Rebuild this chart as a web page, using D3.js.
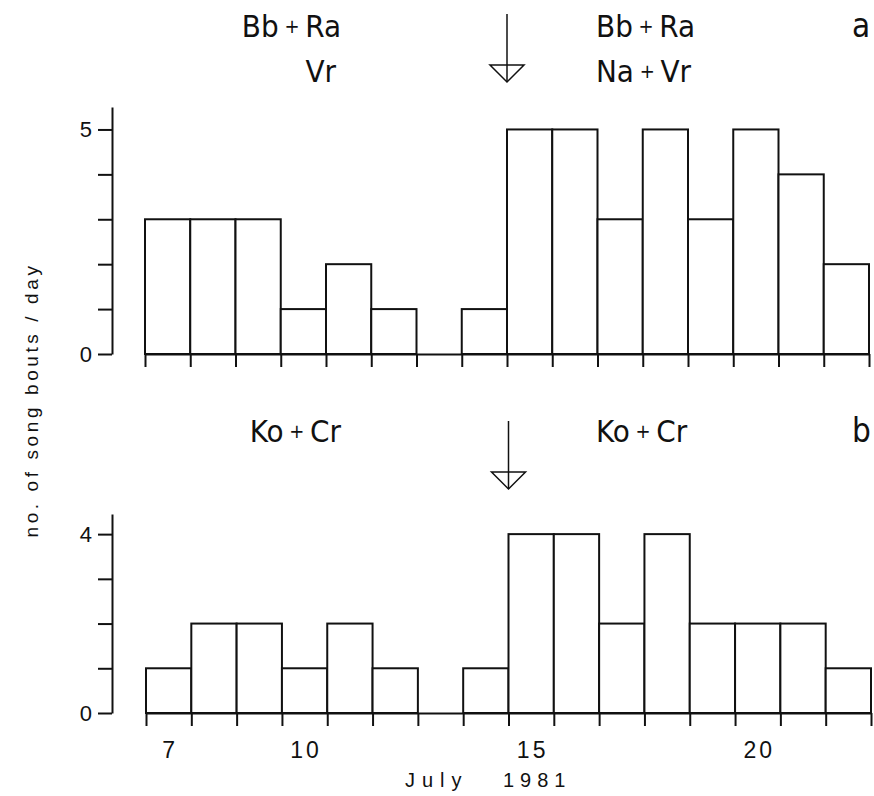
<!DOCTYPE html>
<html>
<head>
    <meta charset="utf-8"/>
    <title>Song bouts per day, July 1981</title>
    <script src="https://d3js.org/d3.v7.min.js"></script>
    <style>
        body { margin: 0; background: #ffffff; }
        svg { display: block; }
        .axis path, .axis line { stroke: #111; stroke-width: 2; }
        .axis text { display: none; }
        .lab { font-family: "Liberation Sans Narrow", "DejaVu Sans Condensed", "Liberation Sans", sans-serif; fill: #111; }
        .num { font-family: "Liberation Sans", Arial, sans-serif; fill: #111; }
    </style>
</head>
<body>
<svg id="chart" width="874" height="796"></svg>
<script>

    // days of July 1981, one bar per day
    var days = [7, 8, 9, 10, 11, 12, 13, 14, 15, 16, 17, 18, 19, 20, 21, 22];
    // song bouts per day, panel a (Bb+Ra / Vr, then Na+Vr)
    var boutsA = [3, 3, 3, 1, 2, 1, 0, 1, 5, 5, 3, 5, 3, 5, 4, 2];
    // song bouts per day, panel b (Ko+Cr)
    var boutsB = [1, 2, 2, 1, 2, 1, 0, 1, 4, 4, 2, 4, 2, 2, 2, 1];
    var dayLabels = [7, 10, 15, 20];
    var arrowDay = 15;

    var svg = d3.select("#chart");

    function panel(vals, yTop, yBase, yMax, yLabelMax, xLeft, xRight) {
        var g = svg.append("g");

        // bar for day d spans [d, d+1]
        var x = d3.scaleLinear().domain([days[0], days[days.length - 1] + 1]).range([xLeft, xRight]);
        var y = d3.scaleLinear().domain([0, yMax]).range([yBase, yTop]);

        g.selectAll("rect.bar")
            .data(days.filter(function (d, i) { return vals[i] > 0; }))
            .enter()
            .append("rect")
            .attr("class", "bar")
            .attr("x", function (d) { return x(d); })
            .attr("width", function (d) { return x(d + 1) - x(d); })
            .attr("y", function (d) { return y(vals[days.indexOf(d)]); })
            .attr("height", function (d) { return y(0) - y(vals[days.indexOf(d)]); })
            .attr("fill", "#ffffff")
            .attr("stroke", "#111")
            .attr("stroke-width", 2);

        // baseline with a tick at every day boundary
        var axX = d3.axisBottom(x).tickValues(d3.range(days[0], days[days.length - 1] + 2))
            .tickSize(13).tickSizeOuter(0).tickFormat("");
        g.append("g").attr("class", "axis").attr("transform", "translate(0," + y(0) + ")").call(axX);

        var axY = d3.axisLeft(y).tickValues(d3.range(0, yLabelMax + 1)).tickSize(14).tickSizeOuter(0);
        g.append("g").attr("class", "axis").attr("transform", "translate(" + (112) + ",0)").call(axY);

        g.selectAll("text.ylab")
            .data([0, yLabelMax])
            .enter()
            .append("text")
            .attr("class", "num")
            .attr("x", 92)
            .attr("y", function (d) { return y(d); })
            .attr("dy", "0.36em")
            .attr("text-anchor", "end")
            .attr("font-size", 22)
            .text(function (d) { return d; });

        // arrow marking the change of birds
        var ax = x(arrowDay);
        var a0 = yTop - 93;
        g.append("line").attr("x1", ax).attr("x2", ax).attr("y1", a0).attr("y2", a0 + 68)
            .attr("stroke", "#111").attr("stroke-width", 1.5);
        g.append("path")
            .attr("d", "M" + (ax - 17) + "," + (a0 + 51) + "L" + (ax + 17) + "," + (a0 + 51) + "L" + ax + "," + (a0 + 68) + "Z")
            .attr("fill", "none").attr("stroke", "#111").attr("stroke-width", 1.5);

        return { g: g, x: x, y: y };
    }

    function pair(g, x, y, left, right, anchor) {
        var t = g.append("text").attr("class", "lab").attr("x", x).attr("y", y)
            .attr("font-size", 31).attr("text-anchor", anchor);
        t.append("tspan").text(left);
        t.append("tspan").attr("font-size", 20).attr("dy", -4).text(" + ");
        t.append("tspan").attr("dy", 4).text(right);
    }

    var pa = panel(boutsA, 107, 354, 5.5, 5, 145, 869);
    pair(pa.g, 341, 37, "Bb", "Ra", "end");
    pa.g.append("text").attr("class", "lab").attr("x", 336).attr("y", 82).attr("font-size", 31)
        .attr("text-anchor", "end").text("Vr");
    pair(pa.g, 596, 37, "Bb", "Ra", "start");
    pair(pa.g, 596, 82, "Na", "Vr", "start");
    pa.g.append("text").attr("class", "lab").attr("x", 852).attr("y", 37).attr("font-size", 33).text("a");

    var pb = panel(boutsB, 514, 713, 4.45, 4, 146, 871);
    pair(pb.g, 341, 442, "Ko", "Cr", "end");
    pair(pb.g, 596, 442, "Ko", "Cr", "start");
    pb.g.append("text").attr("class", "lab").attr("x", 852).attr("y", 442).attr("font-size", 33).text("b");

    // day labels under the lower panel
    svg.selectAll("text.day")
        .data(dayLabels)
        .enter()
        .append("text")
        .attr("class", "num")
        .attr("x", function (d) { return pb.x(d + 0.5) + 1.5; })
        .attr("y", 758)
        .attr("text-anchor", "middle")
        .attr("font-size", 23)
        .attr("letter-spacing", 3)
        .text(function (d) { return d; });

    svg.append("text").attr("class", "num").attr("x", 405).attr("y", 787)
        .attr("font-size", 20).attr("letter-spacing", 7).text("July");
    svg.append("text").attr("class", "num").attr("x", 503).attr("y", 787)
        .attr("font-size", 20).attr("letter-spacing", 6).text("1981");

    svg.append("text").attr("class", "num")
        .attr("transform", "translate(38,400) rotate(-90)")
        .attr("text-anchor", "middle")
        .attr("font-size", 19)
        .attr("letter-spacing", 3.6)
        .text("no. of song bouts / day");

</script>
</body>
</html>
